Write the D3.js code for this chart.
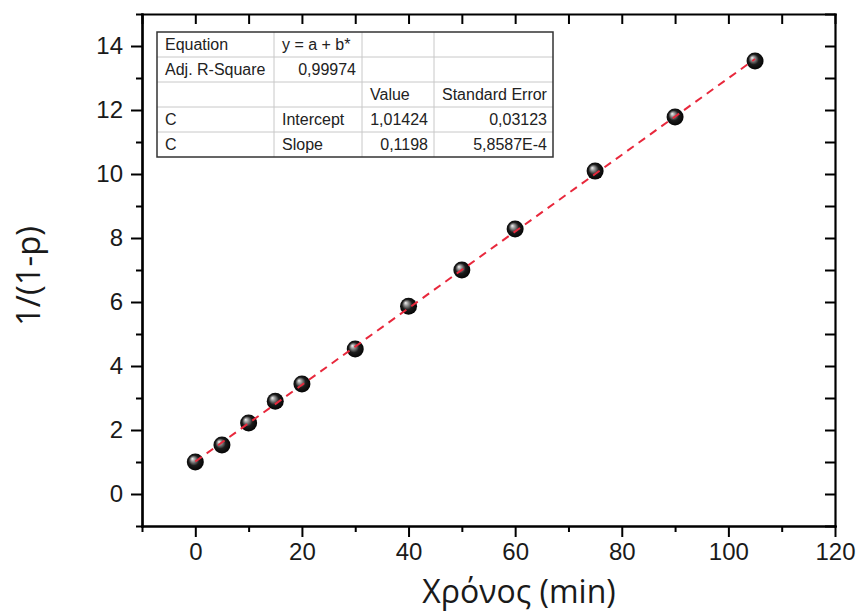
<!DOCTYPE html>
<html>
<head>
<meta charset="utf-8">
<script src="https://cdn.jsdelivr.net/npm/d3@7"></script>
<style>
  html, body { margin: 0; padding: 0; background: #fff; }
  svg { display: block; }
</style>
</head>
<body>
<svg id="chart" width="860" height="612"></svg>
<script>
// Measured conversion data: time (min) vs 1/(1-p)
const times = [0, 5, 10, 15, 20, 30, 40, 50, 60, 75, 90, 105];
const invValues = [1.00, 1.53, 2.22, 2.90, 3.44, 4.53, 5.87, 7.00, 8.28, 10.09, 11.78, 13.53];

// Linear fit results
const fitIntercept = 1.01424;
const fitSlope = 0.1198;

// Axis tick values
const xMajorTicks = [0, 20, 40, 60, 80, 100, 120];
const xMinorTicks = [-10, 10, 30, 50, 70, 90, 110];
const yMajorTicks = [0, 2, 4, 6, 8, 10, 12, 14];
const yMinorTicks = [-1, 1, 3, 5, 7, 9, 11, 13, 15];

// Fit summary table
const tableRows = [
  ["Equation", "y = a + b*", "", ""],
  ["Adj. R-Square", "0,99974", "", ""],
  ["", "", "Value", "Standard Error"],
  ["C", "Intercept", "1,01424", "0,03123"],
  ["C", "Slope", "0,1198", "5,8587E-4"]
];
const tableAlign = [
  ["start", "start", "start", "start"],
  ["start", "end", "start", "start"],
  ["start", "start", "start", "start"],
  ["start", "start", "end", "end"],
  ["start", "start", "end", "end"]
];

const svg = d3.select("#chart");
const plot = { left: 142, right: 835, top: 14, bottom: 526 };

const x = d3.scaleLinear().domain([-10, 120]).range([plot.left, plot.right]);
const y = d3.scaleLinear().domain([-1, 15]).range([plot.bottom, plot.top]);

const defs = svg.append("defs");
const grad = defs.append("radialGradient")
  .attr("id", "sphere")
  .attr("cx", "50%").attr("cy", "50%").attr("r", "55%")
  .attr("fx", "32%").attr("fy", "30%");
grad.append("stop").attr("offset", "0%").attr("stop-color", "#f4f4f4");
grad.append("stop").attr("offset", "22%").attr("stop-color", "#9a9a9a");
grad.append("stop").attr("offset", "55%").attr("stop-color", "#1c1c1c");
grad.append("stop").attr("offset", "100%").attr("stop-color", "#000");

const tickFont = "'Liberation Sans', Arial, sans-serif";
const ink = "#1a1a1a";

// Bottom axis (outward ticks with labels)
const axBottom = svg.append("g").attr("transform", `translate(0,${plot.bottom})`)
  .call(d3.axisBottom(x).tickValues(xMajorTicks).tickSize(11).tickPadding(6).tickSizeOuter(0));
axBottom.append("g").call(d3.axisBottom(x).tickValues(xMinorTicks).tickSize(6).tickFormat("").tickSizeOuter(0));

// Left axis
const axLeft = svg.append("g").attr("transform", `translate(${plot.left},0)`)
  .call(d3.axisLeft(y).tickValues(yMajorTicks).tickSize(11).tickPadding(8).tickSizeOuter(0));
axLeft.append("g").call(d3.axisLeft(y).tickValues(yMinorTicks).tickSize(6).tickFormat("").tickSizeOuter(0));

// Top axis (inward ticks)
svg.append("g").attr("transform", `translate(0,${plot.top})`)
  .call(d3.axisTop(x).tickValues(xMajorTicks.concat(xMinorTicks)).tickSize(-10).tickFormat("").tickSizeOuter(0));

// Right axis (inward ticks)
svg.append("g").attr("transform", `translate(${plot.right},0)`)
  .call(d3.axisRight(y).tickValues(yMajorTicks.concat(yMinorTicks)).tickSize(-10).tickFormat("").tickSizeOuter(0));

svg.selectAll(".domain").attr("stroke", "#000").attr("stroke-width", 2.2).attr("stroke-linecap", "square");
svg.selectAll(".tick line").attr("stroke", "#000").attr("stroke-width", 2);
svg.selectAll(".tick text")
  .attr("font-family", tickFont)
  .attr("font-size", 24)
  .attr("fill", ink);

// Data points
svg.append("g").selectAll("circle")
  .data(times.map((t, i) => ({ t, v: invValues[i] })))
  .join("circle")
  .attr("cx", d => x(d.t))
  .attr("cy", d => y(d.v))
  .attr("r", 8.5)
  .attr("fill", "url(#sphere)");

// Fit line across the measured time range
const fitXs = [times[0], times[times.length - 1]];
const fitLine = d3.line().x(d => x(d)).y(d => y(fitIntercept + fitSlope * d));
svg.append("path")
  .datum(fitXs)
  .attr("d", fitLine)
  .attr("fill", "none")
  .attr("stroke", "#e8283c")
  .attr("stroke-width", 2)
  .attr("stroke-dasharray", "8,6");

// Axis titles
const titleFont = "'Open Sans', 'Noto Sans', sans-serif";
svg.append("text")
  .attr("x", 519).attr("y", 603)
  .attr("text-anchor", "middle")
  .attr("font-family", titleFont)
  .attr("font-size", 32)
  .attr("fill", ink)
  .text("Χρόνος (min)");

svg.append("text")
  .attr("transform", "translate(40,276) rotate(-90)")
  .attr("text-anchor", "middle")
  .attr("font-family", titleFont)
  .attr("font-size", 33)
  .attr("fill", ink)
  .text("1/(1-p)");

// Fit summary table
const colEdges = [157, 274, 362, 434, 553];
const rowTop = 32, rowH = 25;
const tbl = svg.append("g").attr("font-family", tickFont).attr("font-size", 16).attr("fill", "#222");

tbl.append("rect")
  .attr("x", colEdges[0]).attr("y", rowTop)
  .attr("width", colEdges[4] - colEdges[0]).attr("height", rowH * tableRows.length)
  .attr("fill", "#fff");

for (let r = 1; r < tableRows.length; r++) {
  tbl.append("line")
    .attr("x1", colEdges[0]).attr("x2", colEdges[4])
    .attr("y1", rowTop + r * rowH).attr("y2", rowTop + r * rowH)
    .attr("stroke", "#c8c8c8").attr("stroke-width", 1);
}
for (let c = 1; c < 4; c++) {
  tbl.append("line")
    .attr("x1", colEdges[c]).attr("x2", colEdges[c])
    .attr("y1", rowTop).attr("y2", rowTop + rowH * tableRows.length)
    .attr("stroke", "#c8c8c8").attr("stroke-width", 1);
}
tbl.append("rect")
  .attr("x", colEdges[0]).attr("y", rowTop)
  .attr("width", colEdges[4] - colEdges[0]).attr("height", rowH * tableRows.length)
  .attr("fill", "none").attr("stroke", "#333").attr("stroke-width", 1.5);

tableRows.forEach((row, r) => {
  row.forEach((cell, c) => {
    if (!cell) return;
    const anchor = tableAlign[r][c];
    tbl.append("text")
      .attr("x", anchor === "end" ? colEdges[c + 1] - 6 : colEdges[c] + 8)
      .attr("y", rowTop + r * rowH + 18)
      .attr("text-anchor", anchor)
      .text(cell);
  });
});
</script>
</body>
</html>
